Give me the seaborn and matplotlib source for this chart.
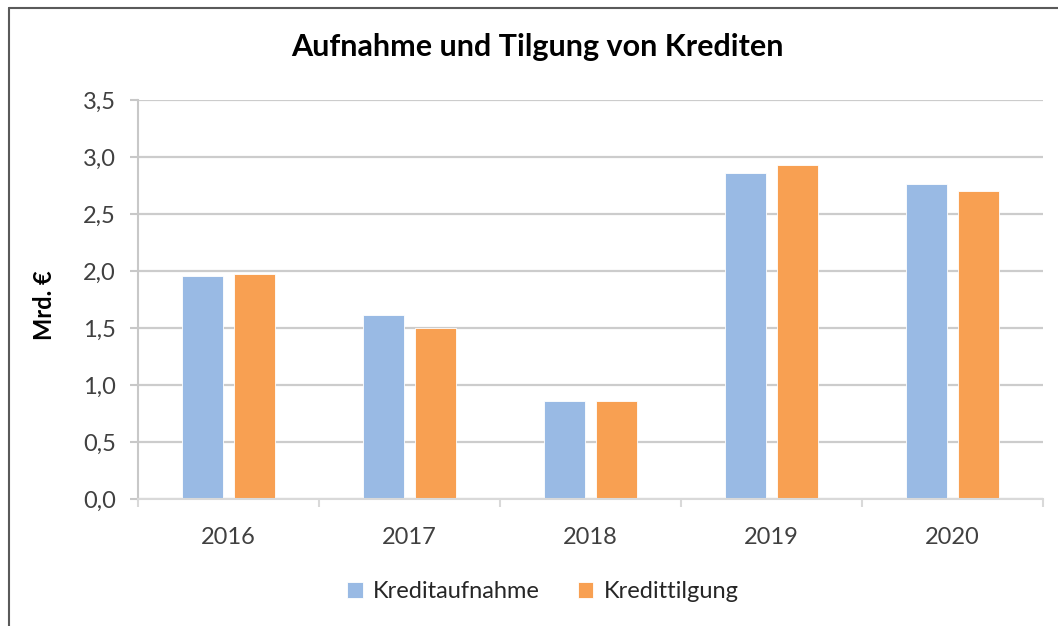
import matplotlib
matplotlib.use("Agg")
import matplotlib.pyplot as plt
import seaborn as sns
import pandas as pd
from matplotlib.patches import Patch
from matplotlib.lines import Line2D
from matplotlib.ticker import FuncFormatter, FixedLocator

# Daten
jahre = ["2016", "2017", "2018", "2019", "2020"]
kreditaufnahme = [1.96, 1.61, 0.86, 2.86, 2.76]
kredittilgung = [1.97, 1.50, 0.86, 2.93, 2.70]
serien = ["Kreditaufnahme", "Kredittilgung"]
farben = ["#99BAE4", "#F8A052"]

df = pd.DataFrame({
    "Jahr": jahre * 2,
    "Wert": kreditaufnahme + kredittilgung,
    "Serie": [serien[0]] * len(jahre) + [serien[1]] * len(jahre),
})

sns.set_theme(style="white")
plt.rcParams["font.family"] = ["Lato", "DejaVu Sans"]

W, H = 1058, 626
fig = plt.figure(figsize=(W / 100, H / 100), dpi=100)
ax = fig.add_axes([138 / W, 1 - 499 / H, (1043 - 138) / W, (499 - 100) / H])

sns.barplot(data=df, x="Jahr", y="Wert", hue="Serie", palette=farben,
            width=0.58, gap=0.22, edgecolor="white", linewidth=0.6,
            saturation=1, ax=ax, legend=False)

ax.set_ylim(0, 3.5)
ax.set_xlim(-0.5, len(jahre) - 0.5)
ax.set_yticks([0, 0.5, 1.0, 1.5, 2.0, 2.5, 3.0, 3.5])
ax.yaxis.set_major_formatter(FuncFormatter(lambda v, p: f"{v:.1f}".replace(".", ",")))
ax.grid(axis="y", color="#CCCCCC", linewidth=1.6)
ax.set_axisbelow(True)

for s in ["top", "right"]:
    ax.spines[s].set_visible(False)
ax.spines["left"].set_color("#C8C8C8")
ax.spines["bottom"].set_color("#D9D9D9")
ax.spines["left"].set_linewidth(1.5)
ax.spines["bottom"].set_linewidth(1.5)

ax.tick_params(axis="y", left=True, length=6, width=1.5, color="#C8C8C8",
               labelsize=17, labelcolor="#404040", pad=10)
ax.tick_params(axis="x", which="major", bottom=False, labelsize=17,
               labelcolor="#404040", pad=14)
ax.xaxis.set_minor_locator(FixedLocator([i - 0.5 for i in range(len(jahre) + 1)]))
ax.tick_params(axis="x", which="minor", bottom=True, length=6, width=1.5,
               color="#D9D9D9")

ax.set_xlabel("")
ax.set_ylabel("")
fig.text(45 / W, 1 - 305 / H, "Mrd. €", rotation=90, ha="center", va="center",
         fontsize=17, fontweight="bold", color="black")

fig.text(537 / W, 1 - 47 / H, "Aufnahme und Tilgung von Krediten",
         ha="center", va="center", fontsize=22, fontweight="bold", color="black")

handles = [Patch(facecolor=c, edgecolor="white", linewidth=0.6) for c in farben]
fig.legend(handles, serien, loc="center", bbox_to_anchor=(543 / W, 1 - 592 / H),
           ncol=2, frameon=False, fontsize=17, handlelength=0.65, handleheight=0.65,
           handletextpad=0.45, columnspacing=1.6, labelcolor="#262626")

# Rahmen des Diagramms
fig.add_artist(Line2D([9 / W, 9 / W], [0, 1 - 8 / H], color="#5A5A5A", linewidth=1.5,
                      transform=fig.transFigure))
fig.add_artist(Line2D([9 / W, 1], [1 - 8 / H, 1 - 8 / H], color="#5A5A5A", linewidth=1.5,
                      transform=fig.transFigure))

fig.savefig("out.png", dpi=100, facecolor="white")
